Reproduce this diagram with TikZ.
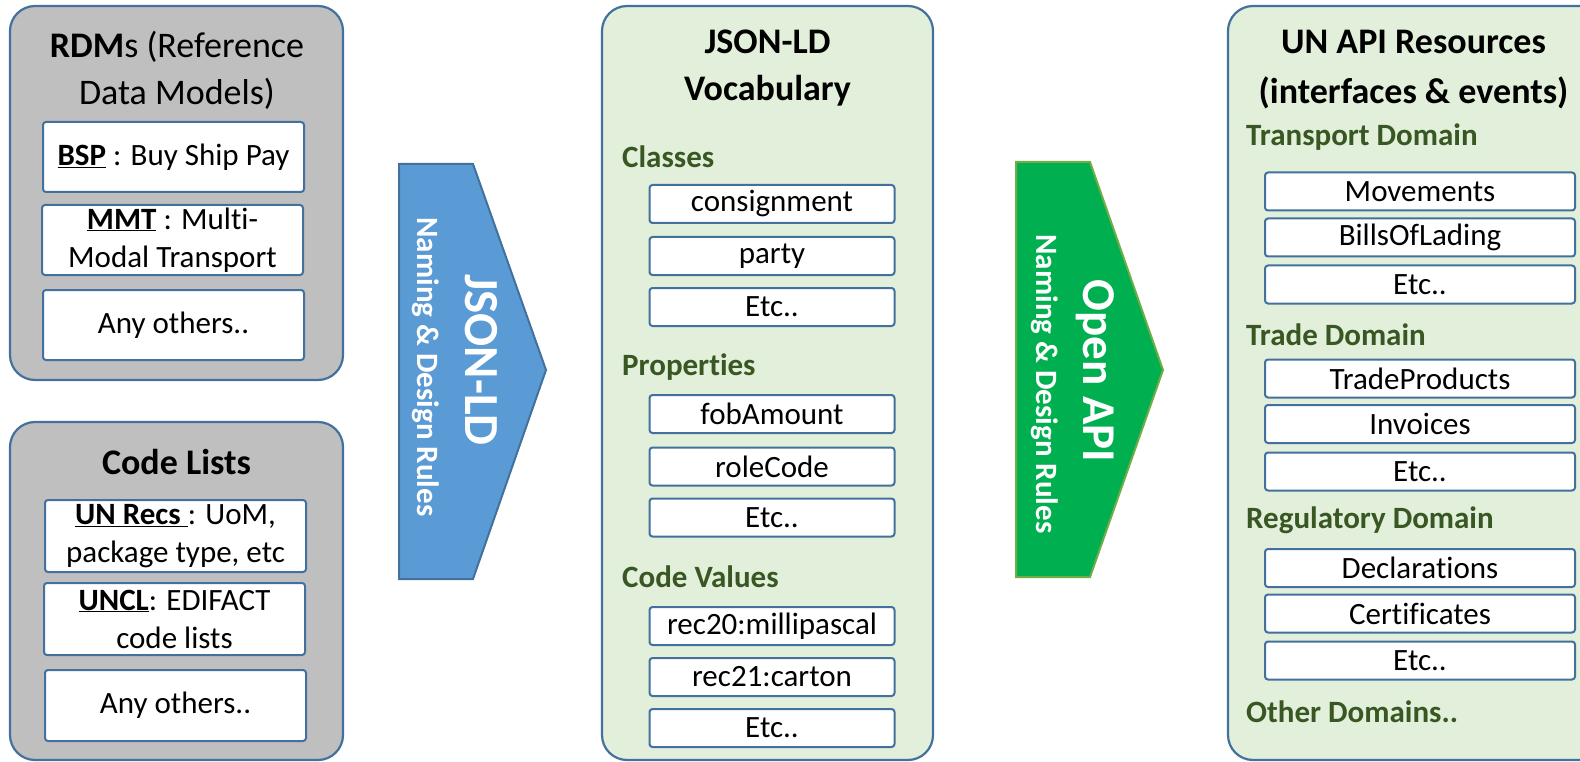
\documentclass[tikz,border=0pt]{standalone}
\usepackage{fontspec}
\setmainfont{Carlito}[Ligatures=NoCommon,Contextuals=NoAlternate]

\definecolor{boxline}{HTML}{41719C}
\definecolor{panelgray}{HTML}{BFBFBF}
\definecolor{panelgreen}{HTML}{E2EFDA}
\definecolor{headgreen}{HTML}{385723}
\definecolor{arrowblue}{HTML}{5B9BD5}
\definecolor{arrowgreen}{HTML}{00B050}
\definecolor{arrowgreenline}{HTML}{70AD47}

\newcommand\bodyfont{\fontsize{31}{38}\selectfont}
\newcommand\ttlfont{\fontsize{36}{47}\selectfont}

\begin{document}
\begin{tikzpicture}[x=1pt,y=-1pt,
  panel/.style={draw=boxline,line width=2.2pt,rounded corners=25pt,inner sep=0pt},
  item/.style={draw=boxline,fill=white,line width=2pt,rounded corners=3pt,inner sep=0pt,
    minimum width=245pt,minimum height=38pt,font=\bodyfont},
  rdmitem/.style={item,minimum width=261pt,minimum height=70pt,align=center},
  ttl/.style={font=\ttlfont,align=center},
  head/.style={anchor=west,font=\bodyfont\bfseries,text=headgreen,inner sep=0pt},
  rulefont/.style={rotate=-90,text=white,font=\bodyfont\bfseries}]
  \useasboundingbox (0,0) rectangle (1580,762);
  \clip (0,0) rectangle (1580,762);

  % left side: reference models and code lists
  \node[panel,fill=panelgray,minimum width=333pt,minimum height=374pt] (rdm) at (176.5,193) {};
  \node[ttl] (rdmtitle) at (177,70) {\textbf{RDM}s (Reference\\Data Models)};
  \node[rdmitem] (bsp) at (173.5,157) {\underline{\textbf{BSP}} : Buy Ship Pay};
  \node[rdmitem] (mmt) at (172.5,240) {\underline{\textbf{MMT}} : Multi-\\Modal Transport};
  \node[rdmitem] (rdmother) at (173.5,325) {Any others..};

  \node[panel,fill=panelgray,minimum width=333pt,minimum height=338pt] (codes) at (176.5,591) {};
  \node[ttl,font=\ttlfont\bfseries] (codestitle) at (176.5,462) {Code Lists};
  \node[rdmitem,minimum height=72pt] (unrecs) at (175.5,536) {\underline{\textbf{UN Recs\ }}: UoM,\\package type, etc};
  \node[rdmitem,minimum height=72pt] (uncl) at (174.5,619) {\underline{\textbf{UNCL}}: EDIFACT\\code lists};
  \node[rdmitem,minimum height=71pt] (codeother) at (175.5,705.5) {Any others..};

  % JSON-LD arrow
  \draw[fill=arrowblue,draw=boxline,line width=2pt]
    (399,164) -- (473,164) -- (546,370) -- (473,579) -- (399,579) -- cycle;
  \node[rulefont,font=\fontsize{49}{56}\selectfont\bfseries] (jsonld) at (481,360) {JSON-LD};
  \node[rulefont] (jsonrules) at (426,367) {Naming \& Design Rules};

  % vocabulary
  \node[panel,fill=panelgreen,minimum width=331pt,minimum height=754pt] (vocab) at (767.5,383) {};
  \node[ttl,font=\ttlfont\bfseries] (vocabtitle) at (767.5,68) {JSON-LD\\Vocabulary};
  \node[head] (classes) at (622,157) {Classes};
  \node[item] (consignment) at (772,204) {consignment};
  \node[item] (party) at (772,256) {party};
  \node[item] (classetc) at (772,307) {Etc..};
  \node[head] (props) at (622,367) {Properties};
  \node[item] (fob) at (772,414) {fobAmount};
  \node[item] (role) at (772,466.5) {roleCode};
  \node[item] (propetc) at (772,517.5) {Etc..};
  \node[head] (codevals) at (622,577) {Code Values};
  \node[item] (rec20) at (772,626) {rec20:millipascal};
  \node[item] (rec21) at (772,677) {rec21:carton};
  \node[item] (codeetc) at (772,728) {Etc..};

  % Open API arrow
  \draw[fill=arrowgreen,draw=arrowgreenline,line width=2pt]
    (1016,162) -- (1090,162) -- (1163,370) -- (1090,577) -- (1016,577) -- cycle;
  \node[rulefont,font=\fontsize{47}{54}\selectfont\bfseries] (openapi) at (1095,371) {Open API};
  \node[rulefont] (apirules) at (1045,384) {Naming \& Design Rules};

  % API resources
  \node[panel,fill=panelgreen,minimum width=392pt,minimum height=754pt] (api) at (1424,383) {};
  \node[ttl,font=\fontsize{36}{50}\selectfont\bfseries] (apititle) at (1413.5,70) {UN API Resources\\(interfaces \& events)};
  \node[head] (transport) at (1246,137) {Transport Domain};
  \node[item,minimum width=310pt] (movements) at (1420,191.5) {Movements};
  \node[item,minimum width=310pt] (bills) at (1420,237.5) {BillsOfLading};
  \node[item,minimum width=310pt] (transetc) at (1420,284.5) {Etc..};
  \node[head] (trade) at (1246,335) {Trade Domain};
  \node[item,minimum width=310pt] (products) at (1420,378.5) {TradeProducts};
  \node[item,minimum width=310pt] (invoices) at (1420,424) {Invoices};
  \node[item,minimum width=310pt] (tradeetc) at (1420,471.5) {Etc..};
  \node[head] (regul) at (1246,520) {Regulatory Domain};
  \node[item,minimum width=310pt] (decl) at (1420,568) {Declarations};
  \node[item,minimum width=310pt] (certs) at (1420,613.5) {Certificates};
  \node[item,minimum width=310pt] (reguletc) at (1420,660.5) {Etc..};
  \node[head] (otherdom) at (1246,712) {Other Domains..};
\end{tikzpicture}
\end{document}
